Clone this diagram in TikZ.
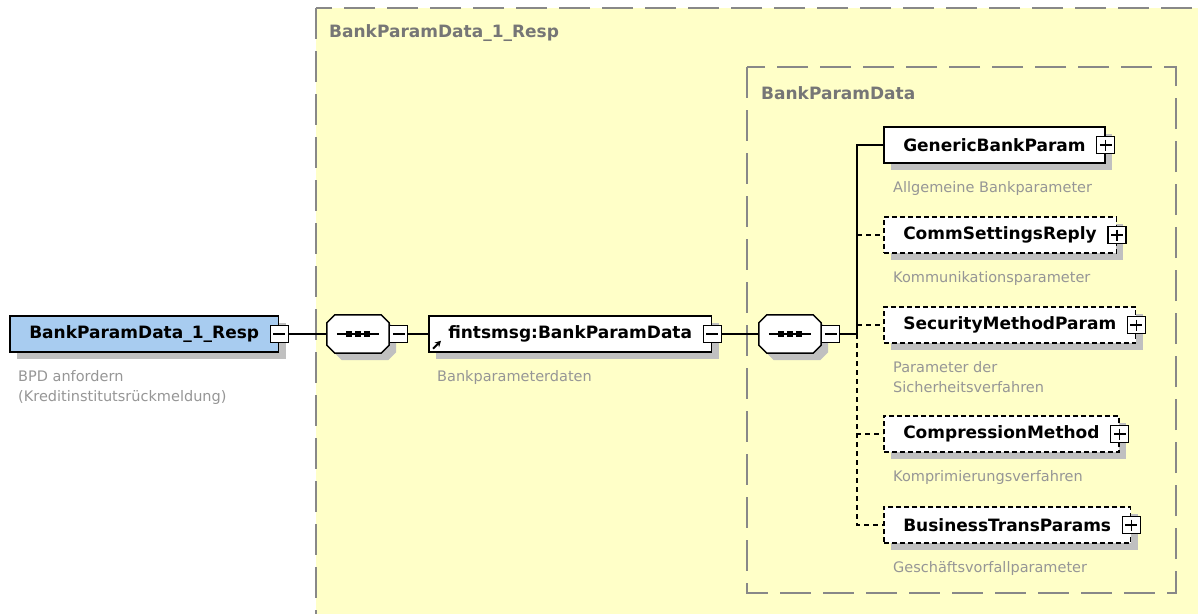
\documentclass[tikz,border=0pt]{standalone}
\usepackage{fontspec}
\setmainfont{DejaVu Sans}
\usetikzlibrary{shadows,arrows.meta,positioning}

\definecolor{groupfill}{RGB}{255,255,200}
\definecolor{groupline}{RGB}{136,136,136}
\definecolor{titlegray}{RGB}{118,118,118}
\definecolor{descgray}{RGB}{150,150,150}
\definecolor{rootblue}{RGB}{168,204,240}
\definecolor{shadegray}{RGB}{192,192,192}

\tikzset{
  shade/.style={drop shadow={shadow xshift=7pt,shadow yshift=-7pt,fill=shadegray,opacity=1}},
  elem/.style={draw,line width=1.5pt,fill=white,minimum height=36pt,inner xsep=19.5pt,
    inner ysep=0pt,anchor=west,font=\fontsize{17}{20}\selectfont\bfseries,shade},
  optelem/.style={elem,dash pattern=on 5pt off 3pt},
  togglebox/.style={draw,line width=1.2pt,fill=white,minimum width=18pt,minimum height=17pt,inner sep=0pt},
  minus/.style={togglebox,path picture={
    \draw[line width=1.2pt] ([xshift=3pt]path picture bounding box.west) -- ([xshift=-3pt]path picture bounding box.east);}},
  plus/.style={togglebox,path picture={
    \draw[line width=1.2pt] ([xshift=3pt]path picture bounding box.west) -- ([xshift=-3pt]path picture bounding box.east);
    \draw[line width=1.2pt] ([yshift=-3pt]path picture bounding box.north) -- ([yshift=3pt]path picture bounding box.south);}},
  seqbox/.style={rectangle,minimum width=62pt,minimum height=38pt,inner sep=0pt},
  groupbox/.style={draw=groupline,fill=groupfill,line width=1.5pt,dash pattern=on 31pt off 12pt},
  grouptitle/.style={anchor=west,inner sep=0pt,text=titlegray,font=\fontsize{17}{20}\selectfont\bfseries},
  desc/.style={anchor=north west,inner sep=0pt,align=left,text=descgray,font=\fontsize{14.5}{20}\selectfont},
  conn/.style={line width=1.5pt},
  optline/.style={dash pattern=on 5pt off 4pt}
}

\begin{document}
\begin{tikzpicture}[x=1pt,y=-1pt]
  \useasboundingbox (0,0) rectangle (1198,613);
  \fill[white] (0,0) rectangle (1198,613);
  \clip (0,0) rectangle (1198,613);

  % Groups
  \draw[groupbox] (316,8) rectangle (1230,650);
  \node[grouptitle] (outertitle) at (329,33) {BankParamData\_1\_Resp};
  \draw[groupbox] (747,67) rectangle (1176,593);
  \node[grouptitle] (innertitle) at (761,93) {BankParamData};

  % Root element
  \node[elem,fill=rootblue] (root) at (9,334) {BankParamData\_1\_Resp};
  \node[minus] (rootmin) at (root.east) {};
  \node[desc] (rootdesc) at ([xshift=9pt,yshift=-18pt]root.south west)
    {BPD anfordern\\(Kreditinstitutsrückmeldung)};

  % Sequence compositors
  \node[seqbox] (seq1) at (358,334) {};
  \node[seqbox] (seq2) at (790,334) {};
  \foreach \s in {seq1,seq2}{
    \fill[shadegray] ([xshift=15pt,yshift=-7pt]\s.north west) -- ([xshift=-1pt,yshift=-7pt]\s.north east)
      -- ([xshift=7pt,yshift=-15pt]\s.north east) -- ([xshift=7pt,yshift=1pt]\s.south east)
      -- ([xshift=-1pt,yshift=-7pt]\s.south east) -- ([xshift=15pt,yshift=-7pt]\s.south west)
      -- ([xshift=7pt,yshift=1pt]\s.south west) -- ([xshift=7pt,yshift=-15pt]\s.north west) -- cycle;
    \draw[line width=1.5pt,fill=white] ([xshift=8pt]\s.north west) -- ([xshift=-8pt]\s.north east)
      -- ([yshift=-8pt]\s.north east) -- ([yshift=8pt]\s.south east)
      -- ([xshift=-8pt]\s.south east) -- ([xshift=8pt]\s.south west)
      -- ([yshift=8pt]\s.south west) -- ([yshift=-8pt]\s.north west) -- cycle;
    \draw[line width=1.2pt] ([xshift=10pt]\s.west) -- ([xshift=-10pt]\s.east);
    \foreach \dx in {-9,0,9}
      \fill ([xshift=\dx pt]\s.center) +(-2.8pt,-2.6pt) rectangle +(2.8pt,2.6pt);
  }
  \node[minus,anchor=west] (seq1min) at (seq1.east) {};
  \node[minus,anchor=west] (seq2min) at (seq2.east) {};
  \coordinate (bus) at (857,334);

  % Referenced element
  \node[elem] (bpd) at (428,334) {fintsmsg:BankParamData};
  \node[minus] (bpdmin) at (bpd.east) {};
  \node[desc] (bpddesc) at ([xshift=9pt,yshift=-18pt]bpd.south west) {Bankparameterdaten};
  \draw[-{Stealth[length=6pt,width=6.5pt]},line width=2pt]
    ([xshift=5pt,yshift=4pt]bpd.south west) -- ++(8,-8);

  % Children
  \node[elem] (gen) at (883,145) {GenericBankParam};
  \node[optelem] (comm) at (883,235) {CommSettingsReply};
  \node[optelem] (secm) at (883,325) {SecurityMethodParam};
  \node[optelem] (compr) at (883,434) {CompressionMethod};
  \node[optelem] (btp) at (883,525) {BusinessTransParams};
  \foreach \n in {gen,comm,secm,compr,btp}
    \node[plus] (\n plus) at (\n.east) {};

  \node[desc] (gendesc) at ([xshift=10pt,yshift=-18pt]gen.south west) {Allgemeine Bankparameter};
  \node[desc] (commdesc) at ([xshift=10pt,yshift=-18pt]comm.south west) {Kommunikationsparameter};
  \node[desc] (secmdesc) at ([xshift=10pt,yshift=-18pt]secm.south west) {Parameter der\\Sicherheitsverfahren};
  \node[desc] (comprdesc) at ([xshift=10pt,yshift=-18pt]compr.south west) {Komprimierungsverfahren};
  \node[desc] (btpdesc) at ([xshift=10pt,yshift=-18pt]btp.south west) {Geschäftsvorfallparameter};

  % Connectors
  \draw[conn] (rootmin.east) -- (seq1.west);
  \draw[conn] (seq1min.east) -- (bpd.west);
  \draw[conn] (bpdmin.east) -- (seq2.west);
  \draw[conn] (seq2min.east) -- (bus);
  \draw[conn] (bus) |- (gen.west);
  \foreach \n in {comm,secm,compr,btp}
    \draw[conn,optline] (bus) |- (\n.west);
\end{tikzpicture}
\end{document}
